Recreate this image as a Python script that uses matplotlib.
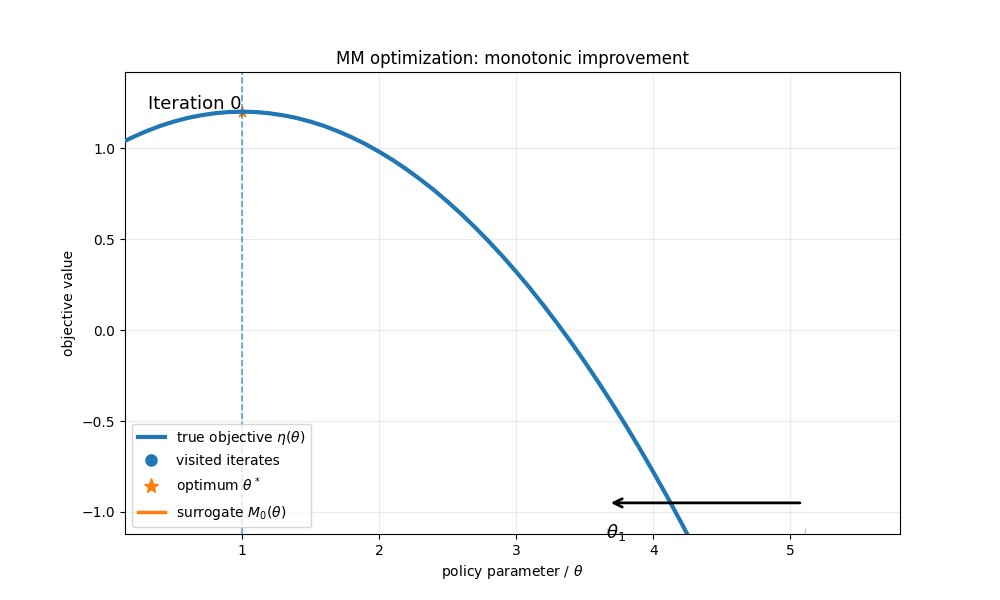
import matplotlib
matplotlib.use("Agg")
import matplotlib.pyplot as plt
from matplotlib.lines import Line2D

# True objective eta(theta)
theta = [0.0, 0.1, 0.2, 0.3, 0.4, 0.5, 0.6, 0.7, 0.8, 0.9,
         1.0, 1.1, 1.2, 1.3, 1.4, 1.5, 1.6, 1.7, 1.8, 1.9,
         2.0, 2.1, 2.2, 2.3, 2.4, 2.5, 2.6, 2.7, 2.8, 2.9,
         3.0, 3.1, 3.2, 3.3, 3.4, 3.5, 3.6, 3.7, 3.8, 3.9,
         4.0, 4.1, 4.2, 4.3, 4.4]
eta = [0.980, 1.022, 1.059, 1.092, 1.121, 1.145, 1.165, 1.180, 1.191, 1.198,
       1.200, 1.198, 1.191, 1.180, 1.165, 1.145, 1.121, 1.092, 1.059, 1.022,
       0.980, 0.934, 0.883, 0.828, 0.769, 0.705, 0.637, 0.564, 0.487, 0.406,
       0.320, 0.230, 0.135, 0.036, -0.067, -0.175, -0.287, -0.404, -0.525, -0.650,
       -0.780, -0.914, -1.053, -1.196, -1.343]

theta_star = 1.0
eta_star = 1.2

arrow_from_theta = 5.09
arrow_to_theta = 3.67
arrow_y = -0.95
theta1_label_x = 3.73
theta1_label_y = -1.115
faint_marks_theta = [3.66, 5.11]

iteration_label = "Iteration 0"

fig, ax = plt.subplots(figsize=(10, 6), dpi=100)

ax.scatter([theta_star], [eta_star], marker="*", s=60, color="C1", zorder=2)
ax.plot(theta, eta, color="C0", lw=3, zorder=3)
ax.axvline(theta_star, color="C0", ls="--", lw=1.2, alpha=0.7, zorder=2)
ax.vlines(faint_marks_theta, -1.125, -1.09, color="C0", lw=1, alpha=0.35)

ax.annotate("", xy=(arrow_to_theta, arrow_y), xytext=(arrow_from_theta, arrow_y),
            arrowprops=dict(arrowstyle="->", color="black", lw=2, mutation_scale=15))
ax.text(theta1_label_x, theta1_label_y, r"$\theta_1$", fontsize=13,
        ha="center", va="center")
ax.text(0.03, 0.95, iteration_label, transform=ax.transAxes, fontsize=13,
        ha="left", va="top")

ax.set_xlim(0.146, 5.80)
ax.set_ylim(-1.121, 1.418)
ax.grid(True, alpha=0.25)
ax.set_title("MM optimization: monotonic improvement")
ax.set_xlabel(r"policy parameter / $\theta$")
ax.set_ylabel("objective value")

handles = [
    Line2D([], [], color="C0", lw=3, label=r"true objective $\eta(\theta)$"),
    Line2D([], [], color="C0", marker="o", ls="none", markersize=8,
           label="visited iterates"),
    Line2D([], [], color="C1", marker="*", ls="none", markersize=11,
           label=r"optimum $\theta^*$"),
    Line2D([], [], color="C1", lw=2.5, label=r"surrogate $M_0(\theta)$"),
]
ax.legend(handles=handles, loc="lower left")

fig.savefig("out.png", dpi=100)
